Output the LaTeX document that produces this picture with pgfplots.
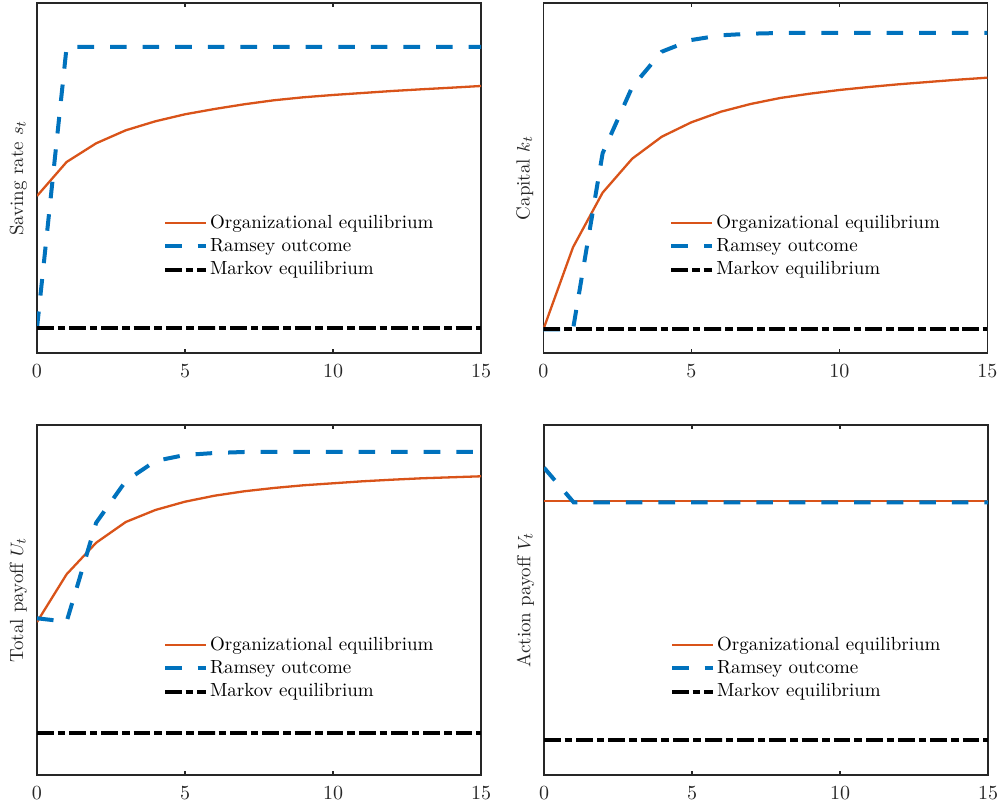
\documentclass[border=0pt]{standalone}
\usepackage{pgfplots}
\pgfplotsset{compat=1.18}
\definecolor{morange}{rgb}{0.85,0.325,0.098}
\definecolor{mblue}{rgb}{0,0.447,0.741}
\definecolor{maxis}{rgb}{0.15,0.15,0.15}
\pgfplotsset{
  myaxis/.style={
    scale only axis, width=222pt, height=175pt,
    xmin=0, xmax=15, ymin=0, ymax=350,
    xtick={0,5,10,15}, ytick=\empty,
    tick align=inside, major tick length=2.2pt,
    axis line style={maxis, line width=0.6pt},
    every tick/.style={maxis, line width=0.6pt},
    tick label style={text=maxis, font=\fontsize{10}{12}\selectfont},
    font=\fontsize{9.5}{11}\selectfont,
    xticklabel style={yshift=-2.3pt},
    ylabel style={at={(axis description cs:0,0.5)}, anchor=center, yshift=9.3pt, text=maxis},
    legend cell align=left,
    legend style={draw=none, fill=none, inner sep=0pt, row sep=0pt,
      at={(rel axis cs:0.283,0.405)}, anchor=north west,
      nodes={inner sep=1pt, text height=7.2pt, text depth=2.4pt},
      font=\fontsize{9.5}{11}\selectfont},
    legend image code/.code={\draw[##1] (0pt,0pt) -- (20.5pt,0pt);},
  },
  org/.style={morange, line width=1.15pt},
  ram/.style={mblue, line width=2pt, dash pattern=on 8.3pt off 8pt},
  mar/.style={black, line width=2pt, dash pattern=on 8.3pt off 2pt on 3.8pt off 2pt},
}
\begin{document}
\begin{tikzpicture}
\useasboundingbox (0,0) rectangle (500pt,403pt);
% top-left
\begin{axis}[myaxis, at={(18.5pt,226.5pt)}, anchor=south west, ylabel={Saving rate $s_t$}]
\addplot[org] coordinates {(0,157)(1,191)(2,209.7)(3,222.7)(4,231.7)(5,238.7)(6,244)(7,248.7)(8,252.7)(9,255.7)(10,258)(11,260)(12,262)(13,263.7)(14,265.3)(15,267)};
\addplot[ram] coordinates {(0,25)(1,306)(2,306)(3,306)(4,306)(5,306)(6,306)(7,306)(8,306)(9,306)(10,306)(11,306)(12,306)(13,306)(14,306)(15,306)};
\addplot[mar] coordinates {(0,25)(1,25)(2,25)(3,25)(4,25)(5,25)(6,25)(7,25)(8,25)(9,25)(10,25)(11,25)(12,25)(13,25)(14,25)(15,25)};
\legend{Organizational equilibrium, Ramsey outcome, Markov equilibrium}
\end{axis}
% top-right
\begin{axis}[myaxis, at={(271.7pt,226.5pt)}, anchor=south west, ylabel={Capital $k_t$}]
\addplot[org] coordinates {(0,23.7)(1,105.7)(2,160.3)(3,194.3)(4,216.3)(5,230.7)(6,241.3)(7,249)(8,255)(9,259.3)(10,263)(11,266)(12,268.7)(13,271)(14,273.3)(15,275.3)};
\addplot[ram] coordinates {(0,23.7)(1,23.7)(2,199.7)(3,266)(4,301.3)(5,313)(6,317.7)(7,319.3)(8,320)(9,320)(10,320)(11,320)(12,320)(13,320)(14,320)(15,320)};
\addplot[mar] coordinates {(0,23.7)(1,23.7)(2,23.7)(3,23.7)(4,23.7)(5,23.7)(6,23.7)(7,23.7)(8,23.7)(9,23.7)(10,23.7)(11,23.7)(12,23.7)(13,23.7)(14,23.7)(15,23.7)};
\legend{Organizational equilibrium, Ramsey outcome, Markov equilibrium}
\end{axis}
% bottom-left
\begin{axis}[myaxis, at={(18.5pt,15.5pt)}, anchor=south west, ylabel={Total payoff $U_t$}]
\addplot[org] coordinates {(0,153)(1,200.7)(2,232.3)(3,253)(4,265)(5,273.3)(6,279.3)(7,283.7)(8,287)(9,289.7)(10,291.7)(11,293.7)(12,295.3)(13,296.7)(14,297.7)(15,298.7)};
\addplot[ram] coordinates {(0,156.7)(1,153.3)(2,252.3)(3,294)(4,314)(5,320)(6,322)(7,323)(8,323)(9,323)(10,323)(11,323)(12,323)(13,323)(14,323)(15,323)};
\addplot[mar] coordinates {(0,42)(1,42)(2,42)(3,42)(4,42)(5,42)(6,42)(7,42)(8,42)(9,42)(10,42)(11,42)(12,42)(13,42)(14,42)(15,42)};
\legend{Organizational equilibrium, Ramsey outcome, Markov equilibrium}
\end{axis}
% bottom-right
\begin{axis}[myaxis, at={(272pt,15.5pt)}, anchor=south west, ylabel={Action payoff $V_t$}]
\addplot[org] coordinates {(0,274)(1,274)(2,274)(3,274)(4,274)(5,274)(6,274)(7,274)(8,274)(9,274)(10,274)(11,274)(12,274)(13,274)(14,274)(15,274)};
\addplot[ram] coordinates {(0,307.3)(1,272.7)(2,272.7)(3,272.7)(4,272.7)(5,272.7)(6,272.7)(7,272.7)(8,272.7)(9,272.7)(10,272.7)(11,272.7)(12,272.7)(13,272.7)(14,272.7)(15,272.7)};
\addplot[mar] coordinates {(0,34.7)(1,34.7)(2,34.7)(3,34.7)(4,34.7)(5,34.7)(6,34.7)(7,34.7)(8,34.7)(9,34.7)(10,34.7)(11,34.7)(12,34.7)(13,34.7)(14,34.7)(15,34.7)};
\legend{Organizational equilibrium, Ramsey outcome, Markov equilibrium}
\end{axis}
\end{tikzpicture}
\end{document}
